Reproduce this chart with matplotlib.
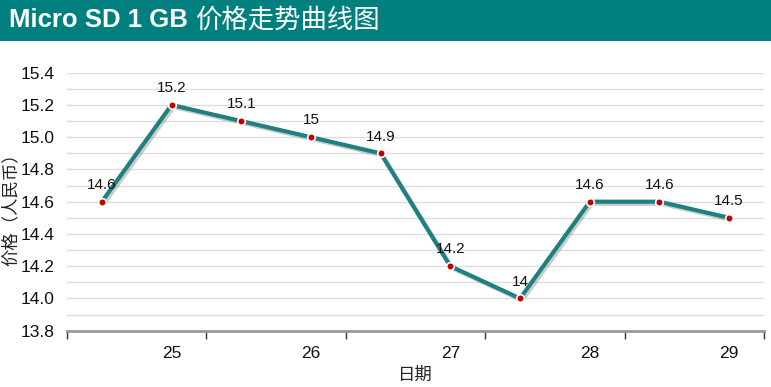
import matplotlib
matplotlib.use("Agg")
import matplotlib.pyplot as plt
import matplotlib.patheffects as pe
from matplotlib.patches import Rectangle

plt.rcParams['font.family'] = ['Liberation Sans', 'Noto Sans CJK SC', 'DejaVu Sans']

# Data
values = [14.6, 15.2, 15.1, 15.0, 14.9, 14.2, 14.0, 14.6, 14.6, 14.5]
value_labels = ["14.6", "15.2", "15.1", "15", "14.9", "14.2", "14", "14.6", "14.6", "14.5"]
tick_labels = ["25", "26", "27", "28", "29"]
title_en = "Micro SD 1 GB "
title_zh = "价格走势曲线图"
y_label = "价格（人民币）"
x_label = "日期"

W, H = 771, 387
fig = plt.figure(figsize=(W / 100, H / 100), dpi=100)

# Title bar
fig.patches.append(Rectangle((0, 1 - 41 / H), 1, 41 / H, transform=fig.transFigure,
                             facecolor="#007f7f", edgecolor="none", zorder=0))
t1 = fig.text(9 / W, 1 - 20 / H, title_en, color="white", fontsize=18.5, fontweight="bold",
              family=['Liberation Sans', 'DejaVu Sans'], va="center", ha="left")
renderer = fig.canvas.get_renderer()
bb = t1.get_window_extent(renderer)
fig.text(bb.x1 / W, 1 - 20 / H, title_zh, color="white", fontsize=19,
         family=['Noto Sans CJK SC'], va="center", ha="left")

ax = fig.add_axes([67 / W, 1 - 330.7 / H, (764 - 67) / W, (330.7 - 72.7) / H])
x = list(range(len(values)))
ax.plot(x, values, color="#1f8080", lw=3, zorder=3, solid_capstyle="round",
        path_effects=[pe.SimpleLineShadow(offset=(1.5, -1.5), shadow_color="gray", alpha=0.4), pe.Normal()])
ax.scatter(x, values, s=30, color="#c00000", edgecolor="white", linewidth=1.2, zorder=4)
for xi, v, lab in zip(x, values, value_labels):
    ax.annotate(lab, (xi, v), xytext=(0, 7), textcoords="offset points", ha="center", va="bottom",
                fontsize=11, color="#111111", zorder=5)

ax.set_xlim(-0.5, len(values) - 0.5)
ax.set_ylim(13.8, 15.4)

# y grid every 0.1
ax.set_yticks([13.8 + 0.2 * i for i in range(9)])
ax.set_yticklabels([f"{13.8 + 0.2 * i:.1f}" for i in range(9)], fontsize=12.5)
for i in range(1, 17):
    ax.axhline(13.8 + 0.1 * i, color="#dddddd", lw=1, zorder=1)
ax.tick_params(axis="y", length=0, pad=9, labelcolor="#111111")

# x ticks: marks at group boundaries, labels at every second point
ax.set_xticks([-0.5 + 2 * i for i in range(6)])
ax.set_xticklabels([""] * 6)
ax.set_xticks([1 + 2 * i for i in range(5)], minor=True)
ax.set_xticklabels(tick_labels, minor=True, fontsize=12.5)
ax.tick_params(axis="x", which="major", length=6, width=1, color="#333333", direction="out")
ax.tick_params(axis="x", which="minor", length=0, pad=11, labelcolor="#111111")

for s in ["top", "right", "left"]:
    ax.spines[s].set_visible(False)
ax.spines["bottom"].set_color("#999999")
ax.spines["bottom"].set_linewidth(2)

fig.text(415 / W, 1 - 375 / H, x_label, ha="center", va="center", fontsize=12.5,
         family=['Noto Sans CJK SC'], color="#222222")
fig.text(11 / W, 1 - 205 / H, y_label, ha="center", va="center", fontsize=12.5, rotation=90,
         family=['Noto Sans CJK SC'], color="#222222")

fig.savefig("out.png", dpi=100)
